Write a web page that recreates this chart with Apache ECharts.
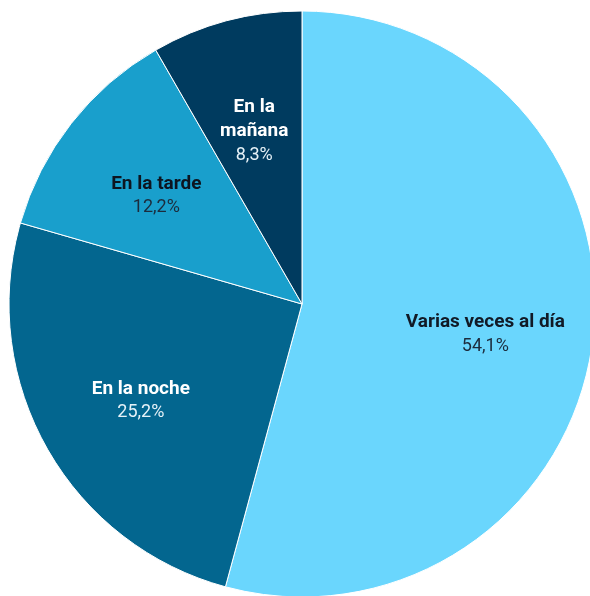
<!DOCTYPE html>
<html>
<head>
<meta charset="utf-8">
<script src="https://cdn.jsdelivr.net/npm/echarts@6/dist/echarts.min.js"></script>
<style>
  html, body { margin: 0; padding: 0; background: #fff; }
  #chart { width: 590px; height: 596px; }
</style>
</head>
<body>
<div id="chart"></div>
<script>
const categories = ['Varias veces al día', 'En la noche', 'En la tarde', 'En la mañana'];
const labelNames = ['Varias veces al día', 'En la noche', 'En la tarde', 'En la\nmañana'];
const values = [54.1, 25.2, 12.2, 8.3];
const colors = ['#6AD6FD', '#03668F', '#199FCC', '#003B5F'];
const nameColors = ['#111a26', '#ffffff', '#0d1520', '#ffffff'];
const valueColors = ['#1c2b3c', '#e6f2f8', '#1c2b3c', '#e6f2f8'];

const chart = echarts.init(document.getElementById('chart'), null, { renderer: 'canvas' });

const fmt = v => v.toFixed(1).replace('.', ',') + '%';

const option = {
    animation: false,
    series: [
        {
            type: 'pie',
            center: [302, 304],
            radius: [0, 293],
            startAngle: 90,
            clockwise: true,
            silent: true,
            itemStyle: { borderColor: '#ffffff', borderWidth: 1 },
            label: { show: false },
            labelLine: { show: false },
            data: values.map((v, i) => ({
                name: categories[i],
                value: v,
                itemStyle: { color: colors[i] }
            }))
        },
        {
            // transparent ring only used to place the labels a bit further out
            type: 'pie',
            center: [302, 304],
            radius: [140, 224],
            startAngle: 90,
            clockwise: true,
            silent: true,
            itemStyle: { color: 'transparent' },
            labelLine: { show: false },
            label: {
                show: true,
                position: 'inside',
                align: 'center',
                offset: [0, 6],
                formatter: p => '{n' + p.dataIndex + '|' + labelNames[p.dataIndex] + '}\n{v' + p.dataIndex + '|' + fmt(p.value) + '}',
                rich: Object.fromEntries(values.flatMap((v, i) => [
                    ['n' + i, { fontFamily: 'Roboto', fontWeight: 'bold', fontSize: 19, lineHeight: 24, color: nameColors[i], align: 'center' }],
                    ['v' + i, { fontFamily: 'Roboto', fontSize: 18, lineHeight: 24, color: valueColors[i], align: 'center' }]
                ]))
            },
            data: values.map((v, i) => ({ name: categories[i], value: v }))
        }
    ]
};

chart.setOption(option);
window.addEventListener('resize', chart.resize);
</script>
</body>
</html>
